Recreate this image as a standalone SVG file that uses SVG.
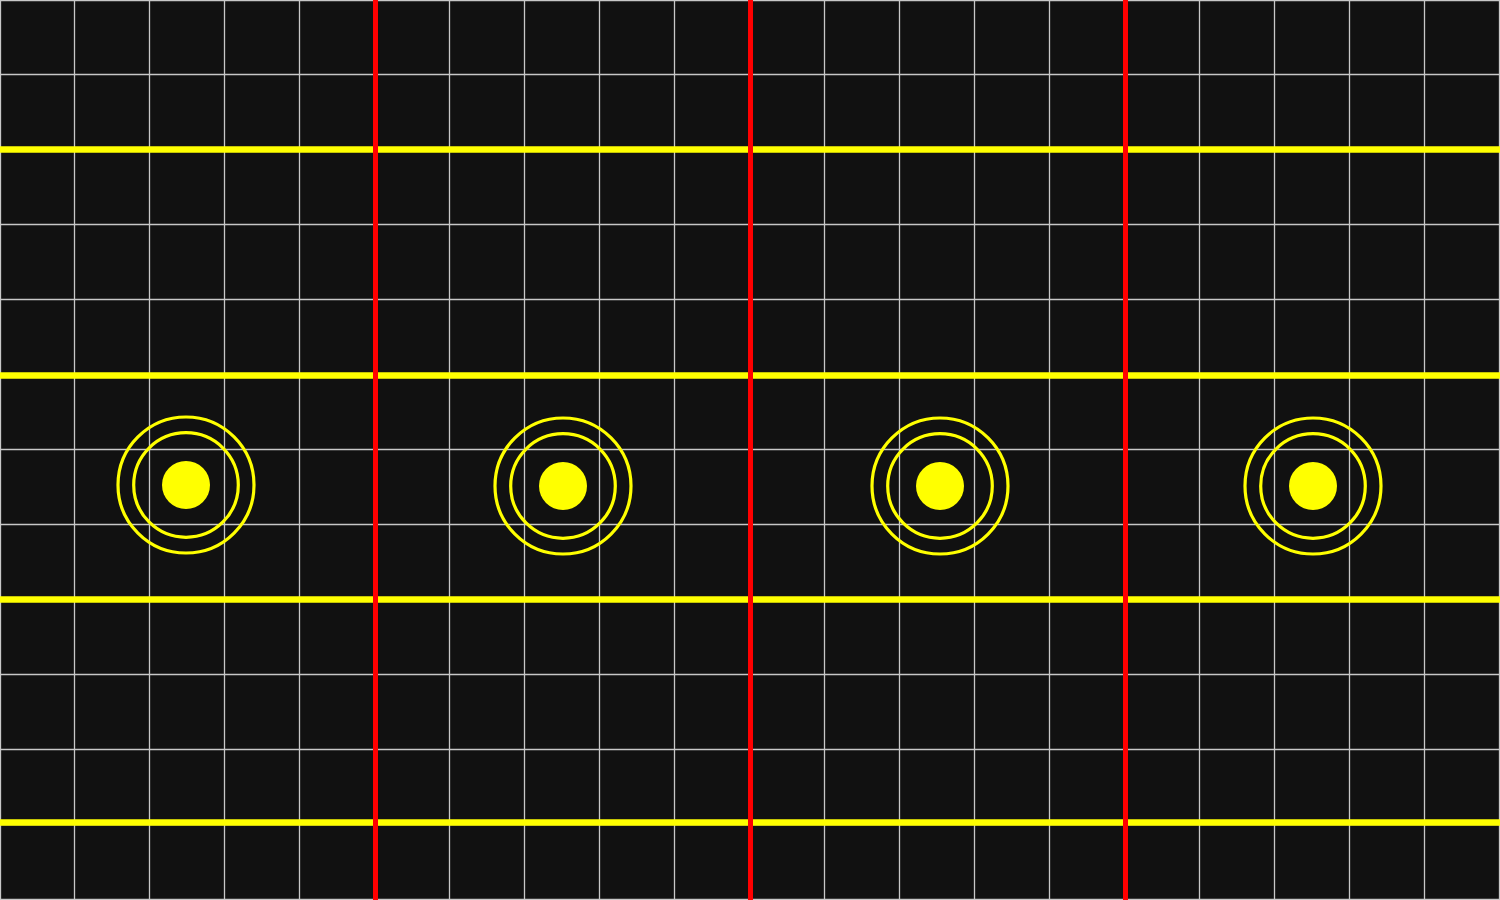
<svg xmlns="http://www.w3.org/2000/svg" width="1500" height="900" viewBox="0 0 1500 900">
<style>
.g{stroke:#c8c8c8;stroke-width:1.3}
.y{stroke:#ffff00;stroke-width:6.5}
.r{stroke:#ff0000;stroke-width:5}
.ring{fill:none;stroke:#ffff00;stroke-width:3.2}
.dot{fill:#ffff00}
</style>
<rect width="1500" height="900" fill="#111111"/>
<g id="grid">
<path class="g" d="M0.5 0V900M74.5 0V900M149.5 0V900M224.5 0V900M299.5 0V900M374.5 0V900M449.5 0V900M524.5 0V900M599.5 0V900M674.5 0V900M749.5 0V900M824.5 0V900M899.5 0V900M974.5 0V900M1049.5 0V900M1124.5 0V900M1199.5 0V900M1274.5 0V900M1349.5 0V900M1424.5 0V900M1499.5 0V900"/>
<path class="g" d="M0 0.5H1500M0 74.5H1500M0 149.5H1500M0 224.5H1500M0 299.5H1500M0 374.5H1500M0 449.5H1500M0 524.5H1500M0 599.5H1500M0 674.5H1500M0 749.5H1500M0 824.5H1500M0 899.5H1500"/>
</g>
<g id="connectors">
<path class="y" d="M0 149.5H1500M0 375.5H1500M0 599.5H1500M0 822.5H1500"/>
<path class="r" d="M375.5 0V900M750.5 0V900M1125.5 0V900"/>
</g>
<g id="node1"><circle class="ring" cx="186" cy="485" r="68"/><circle class="ring" cx="186" cy="485" r="52.3"/><circle class="dot" cx="186" cy="485" r="24"/></g>
<g id="node2"><circle class="ring" cx="563" cy="486" r="68"/><circle class="ring" cx="563" cy="486" r="52.3"/><circle class="dot" cx="563" cy="486" r="24"/></g>
<g id="node3"><circle class="ring" cx="940" cy="486" r="68"/><circle class="ring" cx="940" cy="486" r="52.3"/><circle class="dot" cx="940" cy="486" r="24"/></g>
<g id="node4"><circle class="ring" cx="1313" cy="486" r="68"/><circle class="ring" cx="1313" cy="486" r="52.3"/><circle class="dot" cx="1313" cy="486" r="24"/></g>
</svg>
